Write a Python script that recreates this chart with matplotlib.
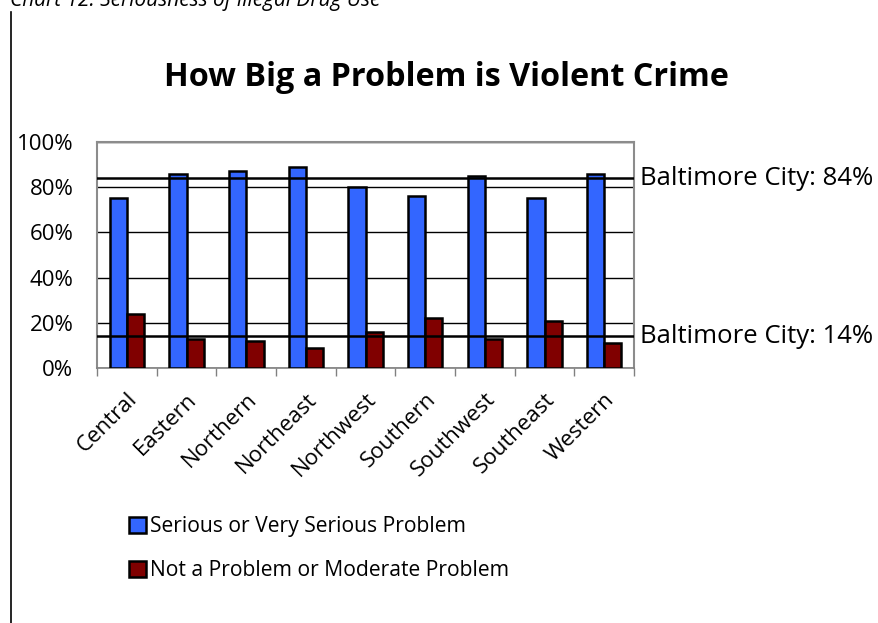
import matplotlib
matplotlib.use("Agg")
import matplotlib.pyplot as plt
from matplotlib.lines import Line2D
import numpy as np

plt.rcParams['font.family'] = ['Open Sans', 'DejaVu Sans']

districts = ["Central", "Eastern", "Northern", "Northeast", "Northwest",
             "Southern", "Southwest", "Southeast", "Western"]
serious = [0.75, 0.86, 0.87, 0.89, 0.80, 0.76, 0.85, 0.75, 0.86]
not_problem = [0.24, 0.13, 0.12, 0.09, 0.16, 0.22, 0.13, 0.21, 0.11]
city_serious = 0.84
city_not_problem = 0.14
yticks = [0, 0.2, 0.4, 0.6, 0.8, 1.0]
ytick_labels = ["0%", "20%", "40%", "60%", "80%", "100%"]

blue = "#3366ff"
maroon = "#800000"

fig = plt.figure(figsize=(8.79, 6.23), dpi=100)
ax = fig.add_axes([0.1104, 0.4093, 0.6109, 0.3628])

x = np.arange(len(districts))
w = 0.29
ax.bar(x - w / 2, serious, w, color=blue, edgecolor="black", linewidth=1.8,
       label="Serious or Very Serious Problem", zorder=3)
ax.bar(x + w / 2, not_problem, w, color=maroon, edgecolor="black", linewidth=1.8,
       label="Not a Problem or Moderate Problem", zorder=3)

ax.set_xlim(-0.5, len(districts) - 0.5)
ax.set_ylim(0, 1.0)
ax.set_yticks(yticks)
ax.set_yticklabels(ytick_labels, fontsize=16)
ax.tick_params(axis="y", length=0, pad=17)
ax.yaxis.grid(True, color="black", linewidth=1.0, zorder=0)

# category ticks sit between groups; labels at group centres
ax.set_xticks(np.arange(-0.5, len(districts) + 0.5, 1.0))
ax.set_xticklabels([])
ax.set_xticks(x, minor=True)
ax.set_xticklabels(districts, minor=True, rotation=45, ha="right",
                   rotation_mode="anchor", fontsize=16)
ax.tick_params(axis="x", which="major", length=6, width=1.0, color="#808080",
               direction="out")
ax.tick_params(axis="x", which="minor", length=0, pad=15)

for side in ["top", "right", "left"]:
    ax.spines[side].set_color("#8c8c8c")
    ax.spines[side].set_linewidth(1.5)
ax.spines["bottom"].set_color("#808080")
ax.spines["bottom"].set_linewidth(1.2)

# city-wide reference lines
ax.axhline(city_serious, color="black", linewidth=1.8, zorder=4)
ax.axhline(city_not_problem, color="black", linewidth=1.8, zorder=4)
ax.annotate(f"Baltimore City: {city_serious:.0%}", xy=(1.0, city_serious),
            xycoords=("axes fraction", "data"), xytext=(4, 0),
            textcoords="offset points", va="center", ha="left", fontsize=18.5)
ax.annotate(f"Baltimore City: {city_not_problem:.0%}", xy=(1.0, city_not_problem),
            xycoords=("axes fraction", "data"), xytext=(4, 0),
            textcoords="offset points", va="center", ha="left", fontsize=18.5)

fig.text(0.508, 0.876, "How Big a Problem is Violent Crime", ha="center",
         va="center", fontsize=23.3, fontweight="bold")

fig.legend(loc="upper left", bbox_to_anchor=(0.137, 0.185), frameon=False,
           fontsize=15.2, handlelength=0.8, handleheight=0.8, handletextpad=0.2,
           labelspacing=1.08, borderaxespad=0)

# page elements around the chart
fig.text(10 / 879, 1 - 6 / 623, "Chart 12: Seriousness of Illegal Drug Use",
         ha="left", va="baseline", fontsize=15, style="italic")
fig.add_artist(Line2D([10.5 / 879, 10.5 / 879], [0, 1 - 12 / 623],
                      transform=fig.transFigure, color="black", linewidth=1.2))

fig.savefig("out.png", dpi=100)
